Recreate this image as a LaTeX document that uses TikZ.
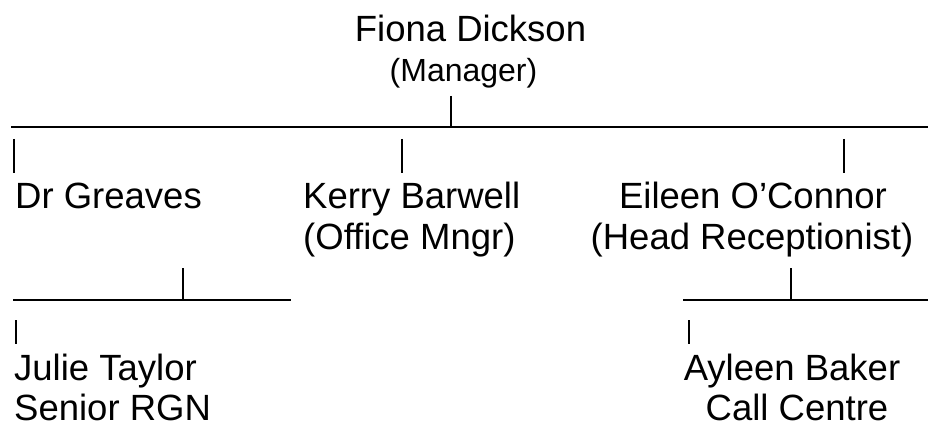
\documentclass[tikz,border=0pt]{standalone}
\usepackage{fontspec}
\setmainfont{Liberation Sans}
\begin{document}
\begin{tikzpicture}[x=1pt,y=-1pt,
  big/.style={inner sep=0pt, font=\fontsize{36.5}{42}\selectfont},
  small/.style={inner sep=0pt, font=\fontsize{32}{38}\selectfont},
  conn/.style={line width=2.8pt, black}]
\useasboundingbox (0,0) rectangle (930,425);
\fill[white] (0,0) rectangle (930,425);
% texts
\node[small, anchor=base] (fionarole) at (463.5,81.7) {(Manager)};
\node[big, anchor=base] (fiona) at (470.5,41.7) {Fiona Dickson};
\node[big, anchor=base west] (greaves) at (15,208) {Dr Greaves};
\node[big, anchor=base west] (kerry) at (303,208) {Kerry Barwell};
\node[big, anchor=base west] (kerryrole) at (303,250) {(Office Mngr)};
\node[big, anchor=base] (eileen) at (753,208) {Eileen O’Connor};
\node[big, anchor=base] (eileenrole) at (752,250) {(Head Receptionist)};
\node[big, anchor=base west] (julie) at (14,380) {Julie Taylor};
\node[big, anchor=base west] (julierole) at (14,420) {Senior RGN};
\node[big, anchor=base] (ayleen) at (792,380) {Ayleen Baker};
\node[big, anchor=base] (ayleenrole) at (797,420) {Call Centre};
% connector points
\coordinate (mtop) at (451,96);
\coordinate (mbus) at (451,128);
\coordinate (busL) at (11,127);
\coordinate (busR) at (928,127);
\coordinate (gtop) at (14,139);   \coordinate (gbot) at (14,173);
\coordinate (ktop) at (402,139);  \coordinate (kbot) at (402,173);
\coordinate (etop) at (844,139);  \coordinate (ebot) at (844,173);
\coordinate (lbusL) at (13,300);  \coordinate (lbusR) at (291,300);
\coordinate (ltop) at (183,268);  \coordinate (lbus) at (183,301);
\coordinate (rbusL) at (683,300); \coordinate (rbusR) at (928,300);
\coordinate (rtop) at (791,268);  \coordinate (rbus) at (791,301);
\coordinate (jtop) at (16,320);   \coordinate (jbot) at (16,344);
\coordinate (atop) at (689,320);  \coordinate (abot) at (689,344);
% connectors
\draw[conn] (busL) -- (busR);
\draw[conn] (mtop) -- (mbus);
\draw[conn] (gtop) -- (gbot);
\draw[conn] (ktop) -- (kbot);
\draw[conn] (etop) -- (ebot);
\draw[conn] (lbusL) -- (lbusR);
\draw[conn] (ltop) -- (lbus);
\draw[conn] (rbusL) -- (rbusR);
\draw[conn] (rtop) -- (rbus);
\draw[conn] (jtop) -- (jbot);
\draw[conn] (atop) -- (abot);
\end{tikzpicture}
\end{document}
